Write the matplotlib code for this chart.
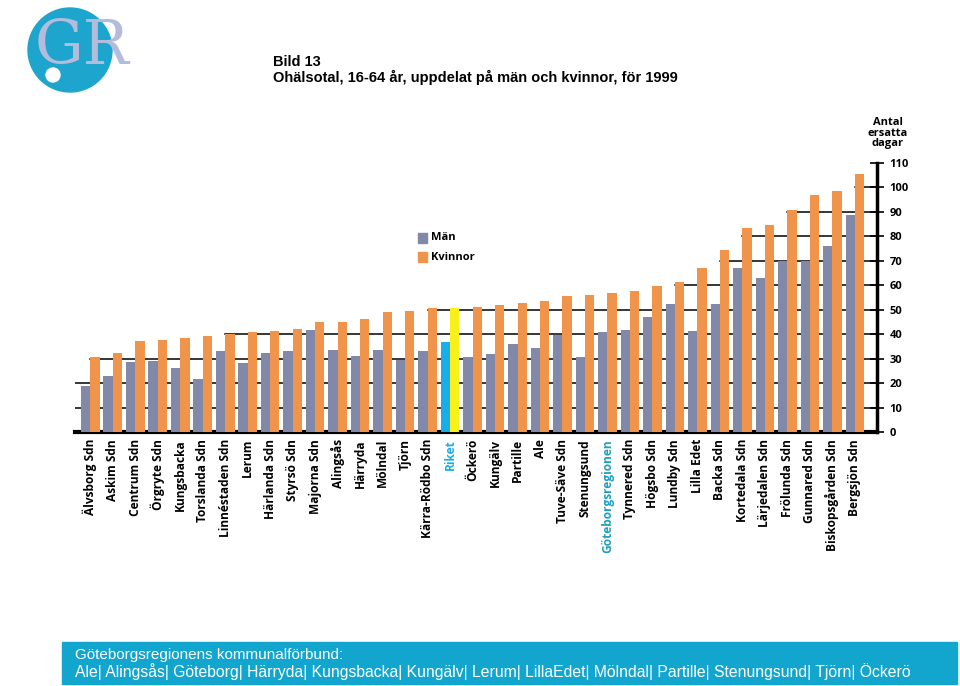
import numpy as np
import matplotlib.pyplot as plt
from matplotlib.patches import Circle, Rectangle

categories = ["Älvsborg Sdn", "Askim Sdn", "Centrum Sdn", "Örgryte Sdn", "Kungsbacka",
              "Torslanda Sdn", "Linnéstaden Sdn", "Lerum", "Härlanda Sdn", "Styrsö Sdn",
              "Majorna Sdn", "Alingsås", "Härryda", "Mölndal", "Tjörn", "Kärra-Rödbo Sdn",
              "Riket", "Öckerö", "Kungälv", "Partille", "Ale", "Tuve-Säve Sdn", "Stenungsund",
              "Göteborgsregionen", "Tynnered Sdn", "Högsbo Sdn", "Lundby Sdn", "Lilla Edet",
              "Backa Sdn", "Kortedala Sdn", "Lärjedalen Sdn", "Frölunda Sdn", "Gunnared Sdn",
              "Biskopsgården Sdn", "Bergsjön Sdn"]
man = [18.8, 22.7, 28.6, 29.0, 26.1, 21.5, 33.1, 28.2, 32.4, 33.1, 41.7, 33.5, 31.2,
       33.5, 29.3, 33.1, 37.0, 30.7, 32.0, 35.9, 34.2, 39.7, 30.5, 40.9, 41.6, 47.0,
       52.4, 41.2, 52.4, 67.2, 62.9, 70.0, 70.0, 76.0, 88.9]
kvinnor = [30.7, 32.5, 37.4, 37.8, 38.6, 39.3, 40.1, 40.9, 41.3, 42.1, 45.1, 45.1, 46.3,
           48.9, 49.3, 50.9, 50.9, 51.3, 52.1, 52.8, 53.6, 55.6, 56.0, 56.8, 57.8, 59.9,
           61.4, 67.2, 74.6, 83.5, 84.6, 90.8, 97.1, 98.5, 105.6]
yticks = list(range(0, 111, 10))

GRAY = "#8289a8"
ORANGE = "#f0944c"
BLUE = "#1aaee8"
YELLOW = "#f8f018"
TEAL = "#12a6cf"
LABELFONT = ["Open Sans", "DejaVu Sans"]

fig = plt.figure(figsize=(9.6, 6.86), dpi=100)
ax = fig.add_axes([75 / 960, 1 - 432 / 686, (877 - 75) / 960, (432 - 163) / 686])

x = np.arange(len(categories))
w = 0.42
gcol = [BLUE if c == "Riket" else GRAY for c in categories]
ocol = [YELLOW if c == "Riket" else ORANGE for c in categories]
ax.bar(x - w / 2, man, w, color=gcol, zorder=3)
ax.bar(x + w / 2, kvinnor, w, color=ocol, zorder=3)

xl = (-0.67, len(categories) - 1 + 0.98)
ax.set_xlim(*xl)
ax.set_ylim(0, 110)

# gridlines start where the orange bars first pass the level
for lv in yticks[1:]:
    idx = next((i for i, v in enumerate(kvinnor) if v >= lv), None)
    if idx is None:
        continue
    start = xl[0] if lv <= 20 else x[idx]
    ax.plot([start, xl[1]], [lv, lv], color="black", lw=1.1, zorder=1)

for s in ["top", "left"]:
    ax.spines[s].set_visible(False)
ax.spines["bottom"].set_linewidth(3)
ax.spines["right"].set_linewidth(2.5)
ax.yaxis.tick_right()
ax.set_yticks(yticks)
ax.tick_params(axis="y", direction="inout", length=10, width=1.2, pad=4)
for t in ax.get_yticklabels():
    t.set_fontweight("bold")
    t.set_fontsize(8)
    t.set_family(LABELFONT)
ax.set_xticks(x)
ax.set_xticklabels(categories, rotation=90, fontsize=8.6, fontweight="bold",
                   family=LABELFONT, va="top")
ax.tick_params(axis="x", length=0, pad=5)
for t, c in zip(ax.get_xticklabels(), categories):
    if c == "Riket":
        t.set_color(BLUE)
    elif c == "Göteborgsregionen":
        t.set_color("#1fa0bf")

fig.text(888 / 960, 1 - 133 / 686, "Antal\nersatta\ndagar", ha="center", va="center",
         fontsize=8, fontweight="bold", family=LABELFONT, linespacing=0.95)

# legend
fig.patches.append(Rectangle((418 / 960, 1 - 243 / 686), 9 / 960, 10 / 686,
                             transform=fig.transFigure, color=GRAY))
fig.patches.append(Rectangle((418 / 960, 1 - 262 / 686), 9 / 960, 10 / 686,
                             transform=fig.transFigure, color=ORANGE))
fig.text(431 / 960, 1 - 238 / 686, "Män", va="center", fontsize=8, fontweight="bold",
         family=LABELFONT)
fig.text(431 / 960, 1 - 257 / 686, "Kvinnor", va="center", fontsize=8,
         fontweight="bold", family=LABELFONT)

# title
fig.text(273 / 960, 1 - 62 / 686, "Bild 13", va="center", fontsize=10.5,
         fontweight="bold", family="Liberation Sans")
fig.text(273 / 960, 1 - 77 / 686, "Ohälsotal, 16-64 år, uppdelat på män och kvinnor, för 1999",
         va="center", fontsize=10.5, fontweight="bold", family="Liberation Sans")

# logo
logo = Circle((0.70, (686 - 50) / 100), 0.42, transform=fig.dpi_scale_trans, color="#1ea5cd")
fig.patches.append(logo)
fig.text(35 / 960, 1 - 64 / 686, "GR", ha="left", va="baseline", fontsize=44,
         family="DejaVu Serif", color="#b4bcdc")
wc = Circle((0.53, (686 - 75) / 100), 0.07, transform=fig.dpi_scale_trans, color="white")
fig.patches.append(wc)

# bottom banner
fig.patches.append(Rectangle((62 / 960, 2 / 686), (957 - 62) / 960, 42 / 686,
                             transform=fig.transFigure, color=TEAL))
fig.text(75 / 960, 1 - 655 / 686, "Göteborgsregionens kommunalförbund:", va="center",
         fontsize=11, color="white", family="Liberation Sans")
fig.text(75 / 960, 1 - 672 / 686,
         "Ale| Alingsås| Göteborg| Härryda| Kungsbacka| Kungälv| Lerum| LillaEdet| "
         "Mölndal| Partille| Stenungsund| Tjörn| Öckerö",
         va="center", fontsize=11.3, color="white", family="Liberation Sans")

fig.savefig("out.png", dpi=100)
